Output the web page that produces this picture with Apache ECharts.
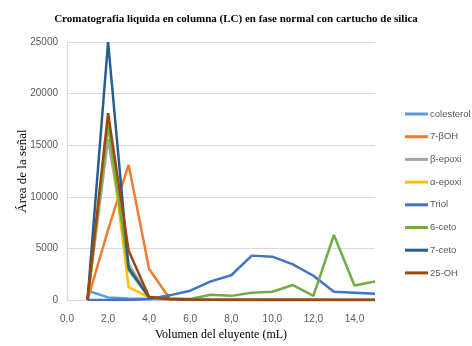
<!DOCTYPE html>
<html>
<head>
<meta charset="utf-8">
<script src="https://cdn.jsdelivr.net/npm/echarts@6/dist/echarts.min.js"></script>
<style>
  html, body { margin: 0; padding: 0; background: #fff; }
  #main { width: 472px; height: 346px; }
</style>
</head>
<body>
<div id="main"></div>
<script>
  // volumen del eluyente (mL)
  const volumen = [1, 2, 3, 4, 5, 6, 7, 8, 9, 10, 11, 12, 13, 14, 15];

  const seriesNames = ['colesterol', '7-βOH', 'β-epoxi', 'α-epoxi', 'Triol', '6-ceto', '7-ceto', '25-OH'];
  const colors = ['#5B9BD5', '#ED7D31', '#A5A5A5', '#FFC000', '#4472C4', '#70AD47', '#255E91', '#9E480E'];

  const colesterol = [900, 250, 150, 100, 80, 60, 50, 50, 40, 40, 40, 40, 30, 30, 30];
  const betaOH7 = [0, 6800, 13100, 3000, 150, 50, 30, 20, 20, 10, 10, 10, 10, 10, 10];
  const betaEpoxi = [0, 15600, 3500, 250, 80, 30, 20, 10, 10, 10, 10, 10, 10, 10, 10];
  const alfaEpoxi = [0, 17300, 1250, 250, 60, 30, 20, 10, 10, 10, 10, 10, 10, 10, 10];
  const triol = [0, 0, 0, 100, 450, 900, 1800, 2400, 4300, 4200, 3450, 2350, 800, 700, 600];
  const ceto6 = [0, 17000, 2900, 250, 150, 100, 500, 400, 700, 800, 1450, 400, 6300, 1400, 1800];
  const ceto7 = [0, 25000, 3100, 250, 100, 50, 20, 10, 10, 10, 10, 10, 10, 10, 10];
  const oh25 = [0, 18100, 4800, 300, 100, 20, 0, 0, 0, 0, 0, 0, 0, 0, 0];

  const allValues = [colesterol, betaOH7, betaEpoxi, alfaEpoxi, triol, ceto6, ceto7, oh25];

  const chart = echarts.init(document.getElementById('main'));

  const series = seriesNames.map((name, i) => ({
    name: name,
    type: 'line',
    symbol: 'none',
    animation: false,
    lineStyle: { width: 2.5, color: colors[i] },
    itemStyle: { color: colors[i] },
    data: volumen.map((x, j) => [x, allValues[i][j]])
  }));

  const option = {
    backgroundColor: '#fff',
    title: {
      text: 'Cromatografia liquida en columna (LC) en fase normal con cartucho de silica',
      left: 'center',
      top: 9,
      textStyle: { fontFamily: 'Liberation Serif', fontSize: 11, fontWeight: 'bold', color: '#000' }
    },
    legend: {
      orient: 'vertical',
      left: 400,
      top: 102,
      icon: 'rect',
      itemWidth: 23,
      itemHeight: 3,
      itemGap: 8.7,
      textStyle: { fontFamily: 'Liberation Sans', fontSize: 9.5, lineHeight: 14, color: '#595959', padding: [0, 0, 0, -3] },
      data: seriesNames
    },
    grid: { left: 67, right: 97, top: 42, bottom: 46 },
    xAxis: {
      type: 'value',
      min: 0,
      max: 15,
      interval: 2,
      name: 'Volumen del eluyente (mL)',
      nameLocation: 'middle',
      nameGap: 29,
      nameMoveOverlap: false,
      nameTextStyle: { fontFamily: 'Liberation Serif', fontSize: 12, color: '#000' },
      axisLine: { show: true, lineStyle: { color: '#d9d9d9' } },
      axisTick: { show: false },
      splitLine: { show: false },
      axisLabel: {
        showMaxLabel: false,
        margin: 14,
        fontFamily: 'Liberation Sans',
        fontSize: 10,
        color: '#595959',
        formatter: v => v.toFixed(1).replace('.', ',')
      }
    },
    yAxis: {
      type: 'value',
      min: 0,
      max: 25000,
      interval: 5000,
      name: 'Área de la señal',
      nameLocation: 'middle',
      nameGap: 38,
      nameMoveOverlap: false,
      nameTextStyle: { fontFamily: 'Liberation Serif', fontSize: 13, color: '#000' },
      axisLine: { show: true, lineStyle: { color: '#d9d9d9' } },
      axisTick: { show: false },
      splitLine: { show: true, lineStyle: { color: '#d9d9d9', width: 1 } },
      axisLabel: {
        margin: 9,
        fontFamily: 'Liberation Sans',
        fontSize: 10,
        color: '#595959',
        formatter: v => String(v)
      }
    },
    series: series
  };

  chart.setOption(option);
</script>
</body>
</html>
